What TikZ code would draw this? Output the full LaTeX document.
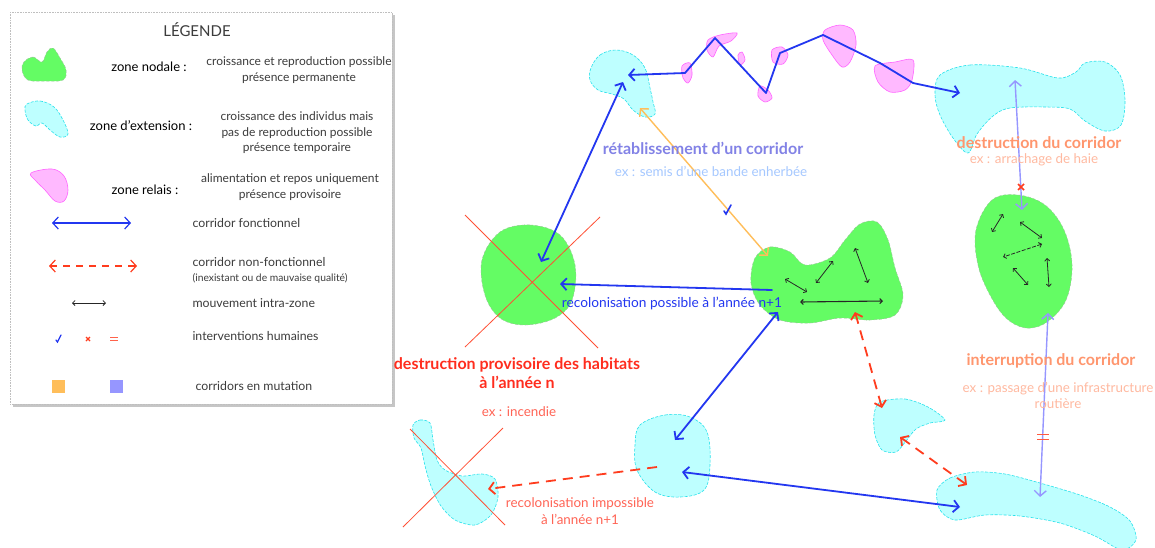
\documentclass[tikz,border=0pt]{standalone}
\usepackage{fontspec}
\setmainfont{Lato}
\usetikzlibrary{arrows.meta}
\definecolor{nodalfill}{RGB}{100,252,100}
\definecolor{nodaledge}{RGB}{150,200,150}
\definecolor{extfill}{RGB}{190,255,255}
\definecolor{extedge}{RGB}{40,225,235}
\definecolor{relfill}{RGB}{255,185,255}
\definecolor{reledge}{RGB}{255,100,255}
\definecolor{corblue}{RGB}{35,55,240}
\definecolor{corred}{RGB}{255,60,30}
\definecolor{mutorange}{RGB}{255,190,90}
\definecolor{mutlilac}{RGB}{150,150,255}
\definecolor{txtorange}{RGB}{255,150,110}
\definecolor{txtorangel}{RGB}{255,185,160}
\definecolor{txtlilac}{RGB}{130,130,230}
\definecolor{txtblue}{RGB}{165,200,255}
\definecolor{txtred}{RGB}{255,45,30}
\definecolor{txtredl}{RGB}{255,100,85}
\definecolor{lgtext}{RGB}{60,60,60}
\begin{document}
\begin{tikzpicture}[x=1pt,y=-1pt,
  nodal/.style={fill=nodalfill,draw=nodaledge,dash pattern=on 3pt off 2pt,line width=0.5pt},
  ext/.style={fill=extfill,draw=extedge,dash pattern=on 3pt off 1.5pt,line width=0.6pt},
  relay/.style={fill=relfill,draw=reledge,line width=0.6pt},
  barb/.tip={Straight Barb[length=5.5pt,width=12pt]},
  smallbarb/.tip={Straight Barb[length=2.5pt,width=5pt]},
  corfn/.style={draw=corblue,line width=1.8pt,barb-barb,line cap=round},
  corfnone/.style={draw=corblue,line width=1.8pt,-barb,line cap=round},
  cornf/.style={draw=corred,line width=1.8pt,barb-barb,dash pattern=on 10pt off 7pt},
  cornfone/.style={draw=corred,line width=1.8pt,-barb,dash pattern=on 10pt off 7pt},
  intra/.style={draw=black!85,line width=0.8pt,smallbarb-smallbarb},
  mutor/.style={draw=mutorange,line width=1.4pt,barb-barb},
  mutli/.style={draw=mutlilac,line width=1.4pt,barb-barb},
  cross/.style={draw=corred!90,line width=0.8pt},
  lgtitle/.style={font=\fontsize{15}{17}\selectfont,text=lgtext},
  lglab/.style={font=\fontsize{13}{15}\selectfont,text=black},
  lgdesc/.style={font=\fontsize{12}{15.5}\selectfont,text=lgtext,align=center},
  lgitem/.style={font=\fontsize{12.3}{14}\selectfont,text=lgtext,anchor=west},
  bigtitle/.style={font=\bfseries\fontsize{16}{18}\selectfont},
  smalltxt/.style={font=\fontsize{13.4}{16}\selectfont,align=center}
]
\useasboundingbox (0,0) rectangle (1155,547);
\fill[white] (0,0) rectangle (1155,547);

% ---------------- legend box ----------------
\fill[gray!45] (13,15) rectangle (395,407);
\draw[fill=white,draw=gray!50,densely dotted,line width=0.6pt] (10,12) rectangle (392,404);

\node[lgtitle] (lgt) at (197,30) {LÉGENDE};

\draw[nodal] plot[smooth cycle,tension=0.6] coordinates {(24,62) (33,57) (42,62) (47,52) (53,48) (60,58) (66,70) (63,80) (45,81) (28,80) (22,70)};
\node[lglab] (l1) at (149,67) {zone nodale :};
\node[lgdesc] (d1) at (299,70) {croissance et reproduction possible\\présence permanente};

\draw[ext] plot[smooth cycle,tension=0.6] coordinates {(27,104) (40,101) (54,107) (63,120) (68,134) (60,137) (50,130) (42,123) (36,126) (28,120) (25,110)};
\node[lglab] (l2) at (141,126) {zone d'extension :};
\node[lgdesc] (d2) at (297,133) {croissance des individus mais\\pas de reproduction possible\\présence temporaire};

\draw[relay] plot[smooth cycle,tension=0.6] coordinates {(31,173) (52,169) (64,176) (68,190) (64,201) (55,201) (45,190) (36,181)};
\node[lglab] (l3) at (145,190) {zone relais :};
\node[lgdesc] (d3) at (290,187) {alimentation et repos uniquement\\présence provisoire};

\coordinate (la1) at (52,223); \coordinate (lb1) at (131,223);
\draw[corfn,line width=1.2pt] (la1) -- (lb1);
\node[lgitem] (t1) at (189,223) {corridor fonctionnel};

\coordinate (la2) at (49,266); \coordinate (lb2) at (137,266);
\draw[cornf,line width=1.2pt,dash pattern=on 7pt off 6pt] (la2) -- (lb2);
\node[lgitem] (t2) at (189,262) {corridor non-fonctionnel};
\node[lgitem,font=\fontsize{10.3}{12}\selectfont] (t2b) at (189,278) {(inexistant ou de mauvaise qualité)};

\coordinate (la3) at (72,303); \coordinate (lb3) at (106,303);
\draw[intra] (la3) -- (lb3);
\node[lgitem] (t3) at (189,303) {mouvement intra-zone};

\coordinate (chk) at (58,339);
\draw[corblue,line width=1.3pt,line cap=round] ([shift={(-2,1)}]chk) -- ([shift={(-0.5,3)}]chk) -- ([shift={(3,-4)}]chk);
\coordinate (xx) at (88,339);
\draw[corred,line width=1.2pt] ([shift={(-2,-2)}]xx) -- ([shift={(2,2)}]xx) ([shift={(-2,2)}]xx) -- ([shift={(2,-2)}]xx);
\coordinate (eq) at (114,339);
\draw[corred!80,line width=0.9pt] ([shift={(-4,-1.5)}]eq) -- ([shift={(4,-1.5)}]eq) ([shift={(-4,1.5)}]eq) -- ([shift={(4,1.5)}]eq);
\node[lgitem] (t4) at (189,336) {interventions humaines};

\fill[mutorange] (52,380) rectangle (65,393);
\fill[mutlilac] (110,380) rectangle (123,393);
\node[lgitem] (t5) at (192,386) {corridors en mutation};

% ---------------- zones ----------------
% top-left extension
\draw[ext] plot[smooth cycle,tension=0.6] coordinates {(591,68) (600,55) (616,50) (633,55) (645,68) (650,88) (653,102) (655,114) (645,117) (633,110) (624,99) (612,94) (598,90) (590,80)};
% pink relays
\draw[relay] plot[smooth cycle,tension=0.5] coordinates {(682,66) (690,63) (692,75) (688,83) (683,78)};
\draw[relay] plot[smooth cycle,tension=0.5] coordinates {(708,40) (720,35) (737,33) (731,41) (719,46) (713,57) (707,50)};
\draw[relay] plot[smooth cycle,tension=0.5] coordinates {(738,55) (742,52) (745,60) (740,65)};
\draw[relay] plot[smooth cycle,tension=0.5] coordinates {(760,86) (768,90) (772,98) (765,102) (758,96)};
\draw[relay] plot[smooth cycle,tension=0.5] coordinates {(772,50) (782,47) (788,55) (783,64) (773,62)};
\draw[relay] plot[smooth cycle,tension=0.5] coordinates {(825,30) (840,25) (853,30) (856,45) (850,62) (842,67) (832,55) (823,40)};
\draw[relay] plot[smooth cycle,tension=0.5] coordinates {(875,66) (895,62) (913,60) (912,80) (905,90) (890,92) (878,82)};
% top-right extension
\draw[ext] plot[smooth cycle,tension=0.55] coordinates {(940,75) (970,65) (1020,68) (1058,78) (1076,72) (1085,63) (1105,62) (1120,75) (1125,100) (1121,125) (1105,131) (1085,121) (1070,109) (1045,107) (1010,108) (993,116) (977,134) (968,153) (953,138) (940,115) (935,95)};
% right nodal
\draw[nodal] plot[smooth cycle,tension=0.6] coordinates {(992,200) (1018,195) (1045,205) (1064,230) (1072,265) (1066,300) (1047,322) (1026,328) (1006,318) (990,295) (978,265) (976,230)};
% center nodal
\draw[nodal] plot[smooth cycle,tension=0.55] coordinates {(755,258) (770,247) (790,252) (805,265) (830,258) (845,240) (860,224) (877,222) (888,240) (895,268) (903,295) (895,315) (870,320) (840,318) (810,323) (780,320) (760,305) (751,283)};
% left nodal (destroyed)
\draw[nodal] plot[smooth cycle,tension=0.6] coordinates {(500,232) (530,225) (560,235) (575,265) (572,300) (555,318) (525,325) (500,318) (485,295) (482,260)};
% bottom-left extension (destroyed)
\draw[ext] plot[smooth cycle,tension=0.5] coordinates {(413,425) (420,420) (430,423) (433,440) (437,460) (445,470) (462,476) (482,474) (495,479) (498,497) (491,515) (475,525) (455,520) (441,506) (431,486) (425,466) (421,448) (414,438)};
% bottom-middle extension
\draw[ext] plot[smooth cycle,tension=0.6] coordinates {(640,425) (665,415) (690,417) (707,432) (710,465) (704,490) (680,497) (655,492) (637,470) (635,445)};
% small hook extension
\draw[ext] plot[smooth cycle,tension=0.5] coordinates {(880,402) (905,399) (928,407) (945,420) (930,423) (916,429) (906,441) (896,452) (882,450) (875,435) (874,415)};
% bottom-right extension
\draw[ext] plot[smooth cycle,tension=0.5] coordinates {(937,490) (950,478) (975,472) (1005,474) (1040,483) (1080,495) (1110,507) (1130,521) (1136,540) (1122,550) (1095,536) (1060,523) (1020,516) (985,515) (955,520) (940,510)};

% ---------------- red crosses ----------------
\coordinate (xa1) at (465,215); \coordinate (xa2) at (598,348);
\coordinate (xa3) at (600,217); \coordinate (xa4) at (465,347);
\draw[cross] (xa1) -- (xa2); \draw[cross] (xa3) -- (xa4);
\coordinate (xb1) at (410,429); \coordinate (xb2) at (505,525);
\coordinate (xb3) at (503,428); \coordinate (xb4) at (403,527);
\draw[cross] (xb1) -- (xb2); \draw[cross] (xb3) -- (xb4);

% ---------------- intra-zone movements ----------------
\coordinate (ca1) at (785,279); \coordinate (cb1) at (807,292);
\coordinate (ca2) at (816,283); \coordinate (cb2) at (833,261);
\coordinate (ca3) at (855,248); \coordinate (cb3) at (868,283);
\coordinate (ca4) at (800,302); \coordinate (cb4) at (883,301);
\draw[intra] (ca1) -- (cb1); \draw[intra] (ca2) -- (cb2);
\draw[intra] (ca3) -- (cb3); \draw[intra,line width=1.1pt] (ca4) -- (cb4);
\coordinate (ra1) at (1003,214); \coordinate (rb1) at (992,232);
\coordinate (ra2) at (1020,222); \coordinate (rb2) at (1042,238);
\coordinate (ra3) at (1042,244); \coordinate (rb3) at (1003,257);
\coordinate (ra4) at (1013,268); \coordinate (rb4) at (1028,285);
\coordinate (ra5) at (1047,258); \coordinate (rb5) at (1049,287);
\draw[intra] (ra1) -- (rb1); \draw[intra] (ra2) -- (rb2);
\draw[intra,dash pattern=on 4pt off 1.5pt] (ra3) -- (rb3);
\draw[intra] (ra4) -- (rb4); \draw[intra] (ra5) -- (rb5);

% ---------------- corridors ----------------
\coordinate (z0) at (628,75); \coordinate (z1) at (685,73); \coordinate (z2) at (715,38);
\coordinate (z3) at (766,93); \coordinate (z4) at (780,53); \coordinate (z5) at (823,35);
\coordinate (z6) at (880,63); \coordinate (z7) at (913,83); \coordinate (z8) at (960,93);
\draw[corfn,line join=round] (z0) -- (z1) -- (z2) -- (z3) -- (z4) -- (z5) -- (z6) -- (z7) -- (z8);

\coordinate (tl) at (623,82); \coordinate (lg) at (541,262);
\draw[corfn] (tl) -- (lg);
\coordinate (cgl) at (772,290); \coordinate (lgr) at (560,284);
\draw[corfnone] (cgl) -- (lgr);
\coordinate (cgb) at (778,312); \coordinate (bm) at (675,440);
\draw[corfn] (cgb) -- (bm);
\coordinate (bmr) at (682,472); \coordinate (brl) at (960,507);
\draw[corfn] (bmr) -- (brl);

\coordinate (tlo) at (640,108); \coordinate (cgo) at (768,256);
\draw[mutor] (tlo) -- (cgo);
\coordinate (chk2) at (727,210);
\draw[corblue,line width=1.6pt,line cap=round] ([shift={(-3,1)}]chk2) -- ([shift={(-1,4)}]chk2) -- ([shift={(4,-5)}]chk2);

\coordinate (trv) at (1015,80); \coordinate (rgt) at (1022,210);
\draw[mutli] (trv) -- (rgt);
\coordinate (xx2) at (1021,187);
\draw[corred,line width=1.6pt] ([shift={(-3,-3)}]xx2) -- ([shift={(3,3)}]xx2) ([shift={(-3,3)}]xx2) -- ([shift={(3,-3)}]xx2);
\coordinate (rgb) at (1048,313); \coordinate (brt) at (1040,497);
\draw[mutli] (rgb) -- (brt);
\coordinate (eq2) at (1043,437);
\draw[corred!85,line width=1.2pt] ([shift={(-6,-2.5)}]eq2) -- ([shift={(6,-2.5)}]eq2) ([shift={(-6,2.5)}]eq2) -- ([shift={(6,2.5)}]eq2);

\coordinate (bml) at (657,467); \coordinate (bl) at (488,489);
\draw[cornfone] (bml) -- (bl);
\coordinate (cgr) at (855,312); \coordinate (hk) at (882,408);
\draw[cornf] (cgr) -- (hk);
\coordinate (hkb) at (900,437); \coordinate (brh) at (967,485);
\draw[cornf] (hkb) -- (brh);

% ---------------- labels ----------------
\node[bigtitle,text=txtlilac] (lbl1) at (703,148) {rétablissement d'un corridor};
\node[smalltxt,text=txtblue] (lbl1b) at (711,171) {ex : semis d'une bande enherbée};
\node[bigtitle,text=txtorange] (lbl2) at (1039,143) {destruction du corridor};
\node[smalltxt,text=txtorangel] (lbl2b) at (1034,160) {ex : arrachage de haie};
\node[bigtitle,text=txtorange] (lbl3) at (1051,361) {interruption du corridor};
\node[smalltxt,text=txtorangel] (lbl3b) at (1058,395) {ex : passage d'une infrastructure\\routière};
\node[bigtitle,text=txtred,align=center,font=\bfseries\fontsize{16}{19}\selectfont] (lbl4) at (517,373) {destruction provisoire des habitats\\à l'année n};
\node[smalltxt,text=txtredl] (lbl4b) at (519,412) {ex : incendie};
\node[smalltxt,text=corblue,font=\fontsize{13.7}{15}\selectfont] (lbl5) at (672,303) {recolonisation possible à l'année n+1};
\node[smalltxt,text=txtredl,font=\fontsize{13.4}{17}\selectfont] (lbl6) at (580,511) {recolonisation impossible\\à l'année n+1};
\end{tikzpicture}
\end{document}
